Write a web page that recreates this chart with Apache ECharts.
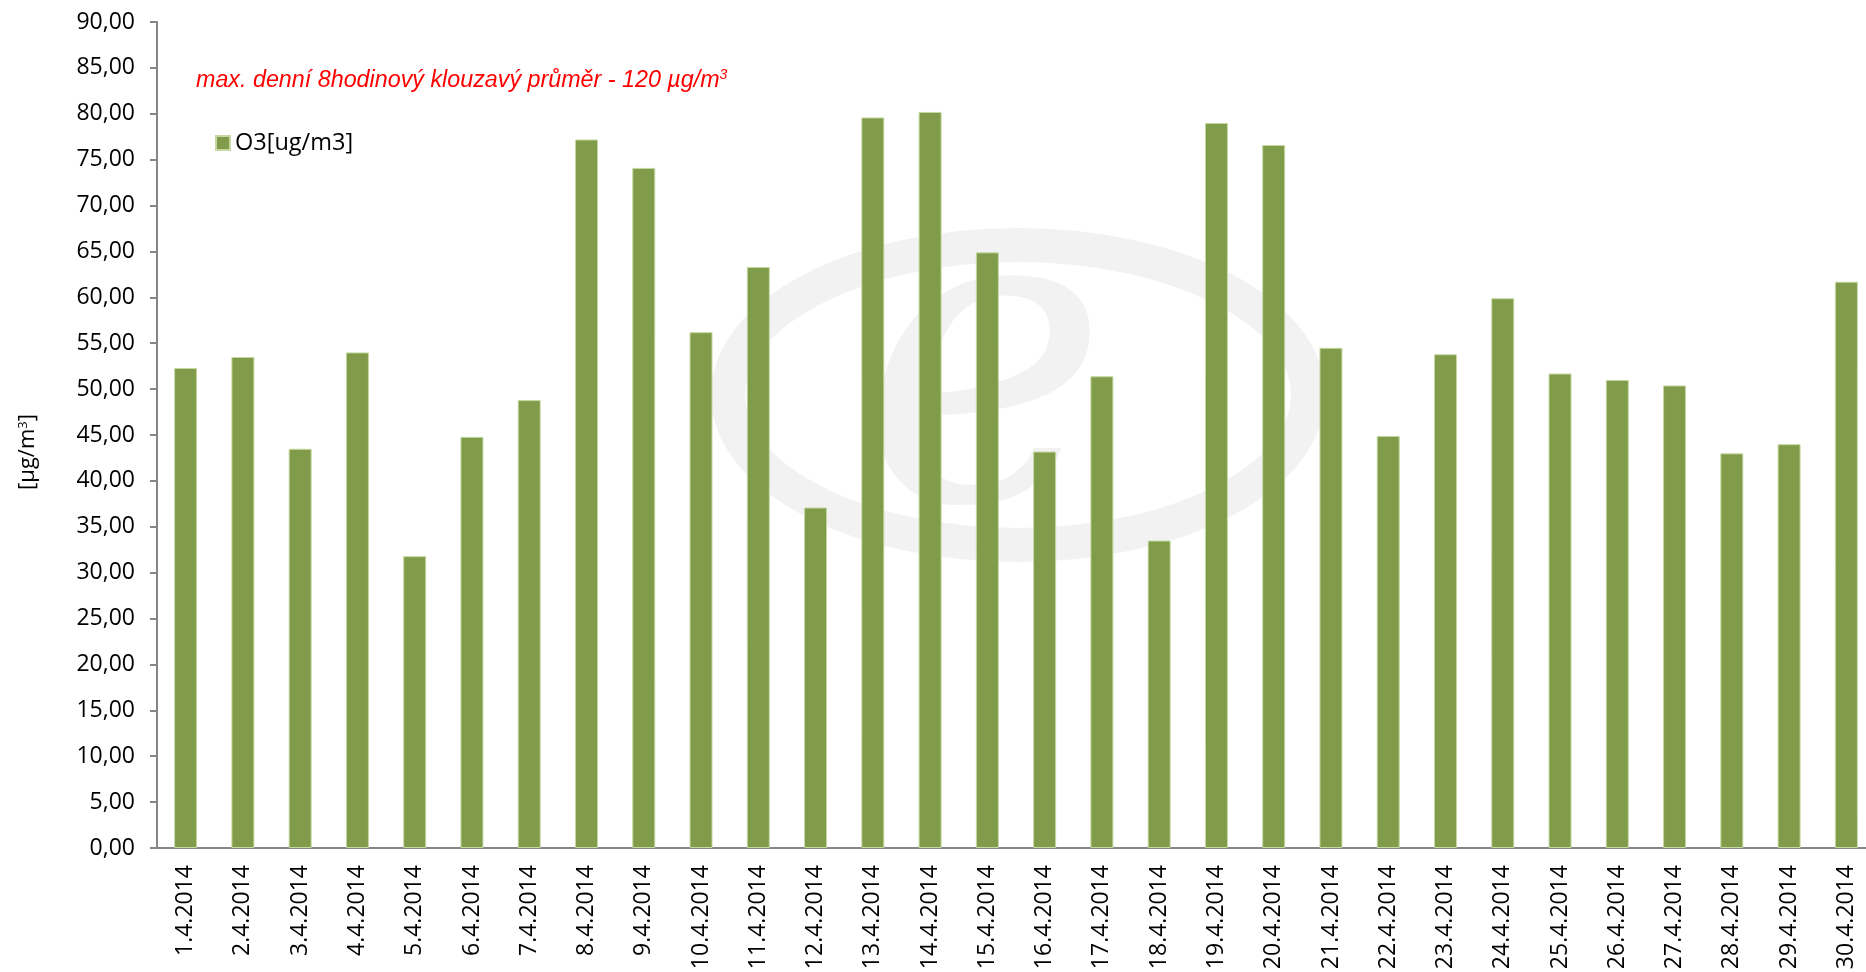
<!DOCTYPE html>
<html>
<head>
<meta charset="utf-8">
<script src="https://cdn.jsdelivr.net/npm/echarts@6/dist/echarts.min.js"></script>
<style>
  html, body { margin: 0; padding: 0; background: #fff; }
  #chart { width: 1866px; height: 972px; }
</style>
</head>
<body>
<div id="chart"></div>
<script>
const days = [
  '1.4.2014', '2.4.2014', '3.4.2014', '4.4.2014', '5.4.2014', '6.4.2014', '7.4.2014', '8.4.2014',
  '9.4.2014', '10.4.2014', '11.4.2014', '12.4.2014', '13.4.2014', '14.4.2014', '15.4.2014',
  '16.4.2014', '17.4.2014', '18.4.2014', '19.4.2014', '20.4.2014', '21.4.2014', '22.4.2014',
  '23.4.2014', '24.4.2014', '25.4.2014', '26.4.2014', '27.4.2014', '28.4.2014', '29.4.2014', '30.4.2014'
];
const o3Values = [
  52.3, 53.5, 43.5, 54.0, 31.8, 44.8, 48.8, 77.2, 74.1, 56.2,
  63.3, 37.1, 79.6, 80.2, 64.9, 43.2, 51.4, 33.5, 79.0, 76.6,
  54.5, 44.9, 53.8, 59.9, 51.7, 51.0, 50.4, 43.0, 44.0, 61.7
];
const seriesName = 'O3[ug/m3]';
const limitNote = 'max. denní 8hodinový klouzavý průměr - 120 µg/m';

const chart = echarts.init(document.getElementById('chart'));

const option = {
  animation: false,
  textStyle: { fontFamily: 'Open Sans' },
  graphic: [
    {
      // faint logo in the background
      type: 'ellipse',
      z: -10,
      shape: { cx: 1018, cy: 395, rx: 290, ry: 150 },
      style: { fill: 'none', stroke: '#f2f2f2', lineWidth: 34 }
    },
    {
      type: 'text',
      z: -10,
      left: 860,
      top: 180,
      style: {
        text: 'e',
        font: 'italic 420px "DejaVu Serif"',
        fill: '#f2f2f2'
      }
    },
    {
      type: 'text',
      left: 196,
      top: 68,
      style: {
        text: '{a|' + limitNote + '}{s|3}',
        fill: '#ff0000',
        rich: {
          a: { fontSize: 23.3, fontStyle: 'italic', fontFamily: 'Liberation Sans', fill: '#ff0000' },
          s: { fontSize: 14, fontStyle: 'italic', fontFamily: 'Liberation Sans', fill: '#ff0000', verticalAlign: 'top', padding: [0, 0, 11, 0] }
        }
      }
    },
    {
      // y axis title, placed like the original (a little below the axis middle)
      type: 'text',
      x: 28,
      y: 452,
      rotation: Math.PI / 2,
      style: {
        text: '{a|[µg/m}{s|3}{a|]}',
        align: 'center',
        verticalAlign: 'middle',
        fill: '#000',
        rich: {
          a: { fontSize: 22, fill: '#000', fontFamily: 'Open Sans' },
          s: { fontSize: 13, fill: '#000', fontFamily: 'Open Sans', verticalAlign: 'top', padding: [0, 0, 9, 0] }
        }
      }
    }
  ],
  legend: {
    left: 210,
    top: 126,
    itemWidth: 14,
    itemHeight: 14,
    itemGap: 6,
    icon: 'rect',
    data: [seriesName],
    textStyle: { fontSize: 23.5, color: '#000', fontFamily: 'Open Sans' }
  },
  grid: {
    left: 157,
    right: -9,
    top: 22,
    bottom: 124,
    outerBoundsMode: 'none'
  },
  xAxis: {
    type: 'category',
    data: days,
    axisLine: { lineStyle: { color: '#868686', width: 2 } },
    axisTick: { show: false },
    axisLabel: {
      rotate: 90,
      interval: 0,
      margin: 17,
      fontSize: 23,
      color: '#000'
    }
  },
  yAxis: {
    type: 'value',
    min: 0,
    max: 90,
    interval: 5,
    axisLine: { show: true, lineStyle: { color: '#868686', width: 2 } },
    axisTick: { show: true, length: 7, lineStyle: { color: '#868686', width: 2 } },
    splitLine: { show: false },
    axisLabel: {
      fontSize: 23,
      color: '#000',
      margin: 22,
      formatter: v => v.toFixed(2).replace('.', ',')
    }
  },
  series: [
    {
      name: seriesName,
      type: 'bar',
      data: o3Values,
      barWidth: 23,
      itemStyle: {
        color: '#809B4A',
        borderColor: '#C6D9A2',
        borderWidth: 1
      }
    }
  ]
};

chart.setOption(option);
</script>
</body>
</html>
